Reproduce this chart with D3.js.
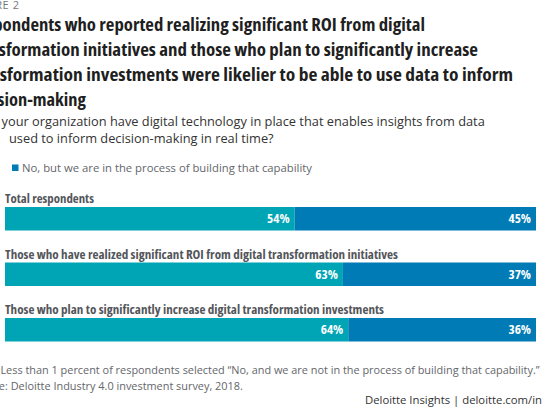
<!DOCTYPE html>
<html>
<head>
<meta charset="utf-8">
<script src="https://cdn.jsdelivr.net/npm/d3@7/dist/d3.min.js"></script>
<style>
  html, body { margin: 0; padding: 0; background: #fff; overflow: hidden; }
  svg { display: block; }
</style>
</head>
<body>
<svg id="chart" width="542" height="408"></svg>
<script>
// ---- data ----
const categories = [
  "Total respondents",
  "Those who have realized significant ROI from digital transformation initiatives",
  "Those who plan to significantly increase digital transformation investments"
];
const yesValues = [54, 63, 64];
const buildingValues = [45, 37, 36];
const seriesNames = ["Yes", "No, but we are in the process of building that capability"];
const figureLabel = "FIGURE 2";
const titleLines = [
  "Respondents who reported realizing significant ROI from digital",
  "transformation initiatives and those who plan to significantly increase",
  "transformation investments were likelier to be able to use data to inform",
  "decision-making"
];
const questionLines = [
  ["Does your organization have digital technology in place that enables insights from data"],
  ["to be", "used to inform decision-making in real time?"]
];
const noteText = "Note: Less than 1 percent of respondents selected \u201cNo, and we are not in the process of building that capability.\u201d";
const sourceText = "Source: Deloitte Industry 4.0 investment survey, 2018.";
const creditText = "Deloitte Insights | deloitte.com/insights";

// ---- style ----
const colors = ["#00A5B5", "#007BB6"];
const condensed = "'Open Sans', 'Liberation Sans Narrow', sans-serif";
const sans = "'Open Sans', 'Noto Sans', sans-serif";

const svg = d3.select("#chart");
const leftHidden = -32; // page is cropped on the left

// figure label
svg.append("text").attr("x", leftHidden).attr("y", 9)
  .attr("font-family", sans).attr("font-size", 11).attr("fill", "#75787B")
  .attr("letter-spacing", 0.6).text(figureLabel);

// title
const titleEnds = [425, 478, 513, 86];
const title = svg.append("g");
titleLines.forEach((t, i) => {
  title.append("text")
    .attr("x", leftHidden).attr("y", 31 + i * 25)
    .attr("font-family", condensed).attr("font-size", 18.5).attr("font-weight", 700)
    .style("font-stretch", "condensed")
    .attr("fill", "#1f1f1f")
    .attr("textLength", titleEnds[i] - leftHidden)
    .attr("lengthAdjust", "spacingAndGlyphs")
    .text(t);
});

// question (cropped on the left)
const questionStarts = [[-32], [-40, 9]];
questionLines.forEach((parts, i) => {
  const t = svg.append("text")
    .attr("y", 126 + i * 16.5)
    .attr("font-family", sans).attr("font-size", 12.8)
    .attr("fill", "#333");
  parts.forEach((p, j) => {
    t.append("tspan").attr("x", questionStarts[i][j]).text(p);
  });
});

// legend (second item; first item is in the cropped-off area)
const legend = svg.append("g").attr("transform", "translate(12,164.5)");
legend.append("rect").attr("width", 6.5).attr("height", 6.5).attr("fill", colors[1]);
legend.append("text").attr("x", 10).attr("y", 7)
  .attr("font-family", sans).attr("font-size", 11.3).attr("fill", "#63666A")
  .text(seriesNames[1]);

// scales
const x = d3.scaleLinear().domain([0, 99]).range([5, 536]).clamp(true);
const y = d3.scaleBand().domain(categories).range([184, 350.5]).padding(0);
const barOffset = 23, barH = 23.5;

const rows = categories.map((c, i) => ({
  cat: c,
  segs: [
    { x0: 0, x1: yesValues[i], v: yesValues[i], k: 0 },
    { x0: yesValues[i], x1: yesValues[i] + buildingValues[i], v: buildingValues[i], k: 1 }
  ]
}));

const labelEnds = [94, 398, 384];
const row = svg.selectAll("g.row").data(rows).join("g").attr("class", "row")
  .attr("transform", d => `translate(0,${y(d.cat)})`);

row.append("text")
  .attr("x", x(0)).attr("y", 19)
  .attr("font-family", condensed).attr("font-size", 13.2).attr("font-weight", 700)
  .style("font-stretch", "condensed")
  .attr("fill", "#53565A")
  .attr("textLength", (d, i) => labelEnds[i] - x(0))
  .attr("lengthAdjust", "spacingAndGlyphs")
  .text(d => d.cat);

row.selectAll("rect").data(d => d.segs).join("rect")
  .attr("x", s => x(s.x0))
  .attr("y", barOffset)
  .attr("width", s => (s.k === 1 ? x.range()[1] : x(s.x1)) - x(s.x0))
  .attr("height", barH)
  .attr("fill", s => colors[s.k]);

row.selectAll("text.val").data(d => d.segs).join("text").attr("class", "val")
  .attr("x", s => (s.k === 1 ? x.range()[1] : x(s.x1)) - 5)
  .attr("y", barOffset + barH / 2 + 4.6)
  .attr("text-anchor", "end")
  .attr("font-family", condensed).attr("font-size", 13.2).attr("font-weight", 700)
  .style("font-stretch", "condensed")
  .attr("fill", "#fff")
  .text(s => s.v + "%");

// notes
svg.append("text").attr("x", -30).attr("y", 374)
  .attr("font-family", sans).attr("font-size", 10.9).attr("fill", "#63666A").text(noteText);
svg.append("text").attr("x", -30).attr("y", 390)
  .attr("font-family", sans).attr("font-size", 10.9).attr("fill", "#63666A").text(sourceText);
svg.append("text").attr("x", 365).attr("y", 403.5)
  .attr("font-family", sans).attr("font-size", 11.3).attr("fill", "#333").text(creditText);
</script>
</body>
</html>
